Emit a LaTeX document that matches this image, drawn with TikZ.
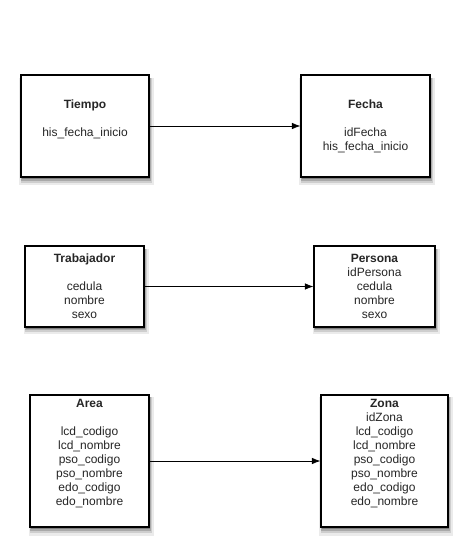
\documentclass[tikz,border=0pt]{standalone}
\usepackage{fontspec}
\setmainfont{Liberation Sans}
\usetikzlibrary{arrows.meta,shadows}
\begin{document}
\begin{tikzpicture}[x=1pt,y=-1pt,
  entity/.style={draw=black, line width=1.1pt, fill=white, rectangle, inner sep=0pt,
    general shadow={shadow xshift=1.5pt, shadow yshift=-5pt, shadow scale=1.05, opacity=0.08, fill=black},
    general shadow={shadow xshift=1.5pt, shadow yshift=-4pt, shadow scale=1.03, opacity=0.12, fill=black},
    general shadow={shadow xshift=1pt, shadow yshift=-3pt, shadow scale=1.01, opacity=0.18, fill=black},
    general shadow={shadow xshift=0.5pt, shadow yshift=-2pt, opacity=0.25, fill=black}},
  txt/.style={align=center, font=\fontsize{12}{14}\selectfont, inner sep=0pt, text=black!85},
  link/.style={-{Latex[length=8.5pt,width=6.5pt]}, line width=0.8pt}]
\useasboundingbox (0,0) rectangle (462,551);

% row 1
\node[entity, minimum width=128pt, minimum height=102pt] (tiempo) at (85,126) {};
\node[entity, minimum width=129pt, minimum height=102pt] (fecha) at (365.5,126) {};
\node[txt] (tiempoT) at (85,119) {\textbf{Tiempo}\\[14pt]his\_fecha\_inicio};
\node[txt] (fechaT) at (365.5,126) {\textbf{Fecha}\\[14pt]idFecha\\his\_fecha\_inicio};

% row 2
\node[entity, minimum width=119pt, minimum height=81pt] (trabajador) at (84.5,286.5) {};
\node[entity, minimum width=121pt, minimum height=81pt] (persona) at (374.5,286.5) {};
\node[txt] (trabajadorT) at (84.5,286) {\textbf{Trabajador}\\[14pt]cedula\\nombre\\sexo};
\node[txt] (personaT) at (374.5,286) {\textbf{Persona}\\idPersona\\cedula\\nombre\\sexo};

% row 3
\node[entity, minimum width=119pt, minimum height=132pt] (area) at (89.5,461) {};
\node[entity, minimum width=127pt, minimum height=132pt] (zona) at (384.5,461) {};
\node[txt] (areaT) at (89.5,454) {\textbf{Area}\\[14pt]lcd\_codigo\\lcd\_nombre\\pso\_codigo\\pso\_nombre\\edo\_codigo\\edo\_nombre};
\node[txt] (zonaT) at (384.5,454) {\textbf{Zona}\\idZona\\lcd\_codigo\\lcd\_nombre\\pso\_codigo\\pso\_nombre\\edo\_codigo\\edo\_nombre};

\draw[link] (tiempo) -- (fecha);
\draw[link] (trabajador) -- (persona);
\draw[link] (area) -- (zona);
\end{tikzpicture}
\end{document}
